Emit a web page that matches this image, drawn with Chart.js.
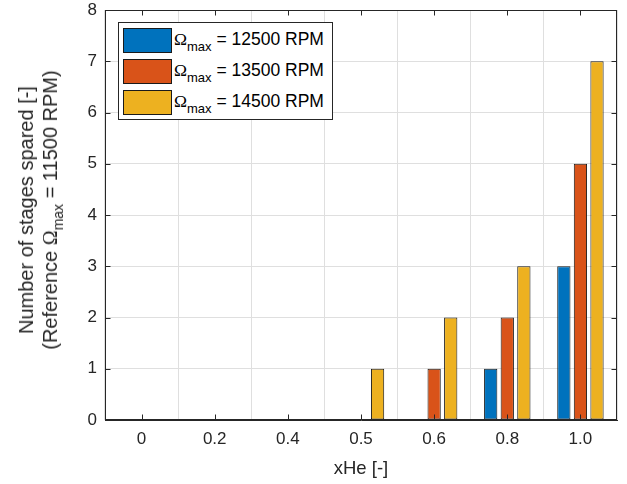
<!DOCTYPE html>
<html>
<head>
<meta charset="utf-8">
<script src="https://cdn.jsdelivr.net/npm/chart.js@4.4.0/dist/chart.umd.min.js"></script>
<style>
  body { margin: 0; background: #fff; }
  #wrap { position: relative; width: 627px; height: 484px; font-family: 'Liberation Sans', Arial, sans-serif; color: #262626; }
  #yTitle { position: absolute; left: 38px; top: 210px; transform: translate(-50%, -50%) rotate(-90deg); text-align: center; font-size: 20px; line-height: 24px; white-space: nowrap; }
  .om { font-family: 'Liberation Serif', 'Times New Roman', serif; }
  sub { font-size: 13px; vertical-align: -6px; line-height: 0; }
  #yTitle sub { font-size: 14px; }
  #legend { position: absolute; left: 118px; top: 22px; width: 213px; height: 96px; border: 1px solid #262626; background: #fff; }
  .row { position: absolute; left: 4px; height: 25px; font-size: 17.5px; color: #000; white-space: nowrap; }
  .sw { position: absolute; left: 0; top: 0; width: 47px; height: 23px; border: 1px solid #1a1a1a; }
  .lbl { position: absolute; left: 51px; top: 1px; }
</style>
</head>
<body>
<div id="wrap">
  <canvas id="chart" width="627" height="484"></canvas>
  <div id="yTitle">Number of stages spared [-]<br>(Reference <span class="om">&Omega;</span><sub>max</sub> = 11500 RPM)</div>
  <div id="legend"></div>
</div>
<script>
const categories = ['0', '0.2', '0.4', '0.5', '0.6', '0.8', '1.0'];
const rpm12500 = [0, 0, 0, 0, 0, 1, 3];
const rpm13500 = [0, 0, 0, 0, 1, 2, 5];
const rpm14500 = [0, 0, 0, 1, 2, 3, 7];
const seriesNames = ['12500', '13500', '14500'];
const colors = ['#0072BD', '#D95319', '#EDB120'];

// legend (html, so the subscript works)
const legendEl = document.getElementById('legend');
seriesNames.forEach((name, i) => {
  const row = document.createElement('div');
  row.className = 'row';
  row.style.top = (5 + i * 31) + 'px';
  row.innerHTML = '<div class="sw" style="background:' + colors[i] + '"></div>' +
    '<div class="lbl"><span class="om">&Omega;</span><sub>max</sub> = ' + name + ' RPM</div>';
  legendEl.appendChild(row);
});

// box around the axes + matlab style inner ticks
const boxPlugin = {
  id: 'box',
  afterDraw(chart) {
    const { ctx, chartArea: a, scales: { x, y } } = chart;
    const l = Math.round(a.left) + 0.5, r = Math.round(a.right) - 0.5;
    const t = Math.round(a.top) + 0.5, b = Math.round(a.bottom) - 0.5;
    ctx.save();
    ctx.strokeStyle = '#262626';
    ctx.lineWidth = 1;
    ctx.strokeRect(l, t, r - l, b - t);
    ctx.beginPath();
    x.ticks.forEach((tk, i) => {
      const px = Math.round(x.getPixelForTick(i)) + 0.5;
      ctx.moveTo(px, b); ctx.lineTo(px, b - 5);
      ctx.moveTo(px, t); ctx.lineTo(px, t + 5);
    });
    y.ticks.forEach(tk => {
      const py = Math.round(y.getPixelForValue(tk.value)) + 0.5;
      ctx.moveTo(l, py); ctx.lineTo(l + 5, py);
      ctx.moveTo(r, py); ctx.lineTo(r - 5, py);
    });
    ctx.stroke();
    ctx.restore();
  }
};

const datasets = [rpm12500, rpm13500, rpm14500].map((vals, i) => ({
  label: 'Ωmax = ' + seriesNames[i] + ' RPM',
  data: vals,
  backgroundColor: colors[i],
  borderColor: '#1a1a1a',
  borderWidth: 1,
  borderSkipped: false,
  categoryPercentage: 0.68,
  barPercentage: 0.8,
}));

new Chart(document.getElementById('chart').getContext('2d'), {
  type: 'bar',
  data: { labels: categories, datasets: datasets },
  plugins: [boxPlugin],
  options: {
    responsive: false,
    animation: false,
    layout: { padding: { left: 0, right: 10, top: 10, bottom: 0 } },
    plugins: { legend: { display: false }, tooltip: { enabled: false } },
    scales: {
      x: {
        grid: { color: '#dfdfdf', drawTicks: false },
        border: { color: '#262626' },
        ticks: { color: '#262626', font: { family: 'Liberation Sans', size: 17 }, padding: 9 },
        title: { display: true, text: 'xHe [-]', color: '#262626', font: { family: 'Liberation Sans', size: 18.5 }, padding: { top: 3 } },
        afterFit: s => { s.height = 64; },
      },
      y: {
        min: 0,
        max: 8,
        grid: { color: '#dfdfdf', drawTicks: false },
        border: { color: '#262626' },
        ticks: { stepSize: 1, color: '#262626', font: { family: 'Liberation Sans', size: 17 }, padding: 8 },
        afterFit: s => { s.width = 105; s.paddingTop = 0; s.paddingBottom = 0; },
      },
    },
  },
});
</script>
</body>
</html>
